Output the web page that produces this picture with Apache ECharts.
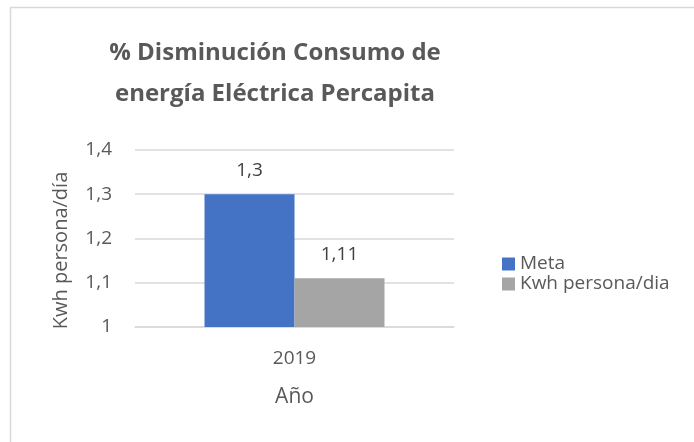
<!DOCTYPE html>
<html>
<head>
<meta charset="utf-8">
<script src="https://cdn.jsdelivr.net/npm/echarts@6/dist/echarts.min.js"></script>
<style>
html,body{margin:0;padding:0;background:#fff;}
#chart{width:694px;height:442px;}
</style>
</head>
<body>
<div id="chart"></div>
<script>
var titleText = '% Disminución Consumo de\nenergía Eléctrica Percapita';
var categories = ['2019'];
var seriesNames = ['Meta', 'Kwh persona/dia'];
var metaValues = [1.3];
var kwhValues = [1.11];
var yTicks = {min: 1, max: 1.4, interval: 0.1};
var xAxisName = 'Año';
var yAxisName = 'Kwh persona/día';

function fmt(v) { return String(+(+v).toFixed(2)).replace('.', ','); }

var FONT = 'Open Sans';
var chart = echarts.init(document.getElementById('chart'), null, {renderer: 'canvas'});
chart.setOption({
  backgroundColor: '#fff',
  animation: false,
  title: {
    text: titleText,
    left: 270, top: 28, textAlign: 'center',
    textStyle: {fontFamily: FONT, fontWeight: 'bold', fontSize: 24, color: '#595959', lineHeight: 41}
  },
  graphic: [{
    type: 'rect', left: 8, top: 5, shape: {x: 0, y: 0, width: 700, height: 460},
    style: {fill: 'none', stroke: '#d9d9d9', lineWidth: 1.5}, silent: true, z: -1
  }],
  legend: {
    orient: 'vertical', left: 497, top: 249, itemWidth: 13, itemHeight: 13, itemGap: 0,
    icon: 'rect',
    textStyle: {fontFamily: FONT, fontSize: 19, lineHeight: 20, color: '#595959'},
    data: seriesNames
  },
  grid: {left: 135, right: 240, top: 150, bottom: 115},
  xAxis: {
    type: 'category', data: categories,
    axisTick: {show: false},
    axisLine: {lineStyle: {color: '#d9d9d9', width: 1.5}},
    axisLabel: {fontFamily: FONT, fontSize: 19, color: '#595959', margin: 22},
    name: xAxisName, nameLocation: 'middle', nameGap: 60,
    nameTextStyle: {fontFamily: FONT, fontSize: 21, color: '#595959'}
  },
  yAxis: {
    type: 'value', min: yTicks.min, max: yTicks.max, interval: yTicks.interval,
    axisLine: {show: false}, axisTick: {show: false},
    splitLine: {lineStyle: {color: '#d9d9d9', width: 1.5}},
    axisLabel: {fontFamily: FONT, fontSize: 19, color: '#595959', margin: 23, formatter: fmt},
    name: yAxisName, nameLocation: 'middle', nameGap: 64,
    nameTextStyle: {fontFamily: FONT, fontSize: 20, color: '#595959', padding: [0, 24, 0, 0]}
  },
  series: [
    {
      name: seriesNames[0], type: 'bar', data: metaValues, barWidth: 90, barGap: '0%',
      itemStyle: {color: '#4472C4'},
      label: {show: true, position: 'top', distance: 14, formatter: function(p){return fmt(p.value);},
        fontFamily: FONT, fontSize: 19, color: '#404040'}
    },
    {
      name: seriesNames[1], type: 'bar', data: kwhValues, barWidth: 90,
      itemStyle: {color: '#A5A5A5'},
      label: {show: true, position: 'top', distance: 14, formatter: function(p){return fmt(p.value);},
        fontFamily: FONT, fontSize: 19, color: '#404040'}
    }
  ]
});
</script>
</body>
</html>
